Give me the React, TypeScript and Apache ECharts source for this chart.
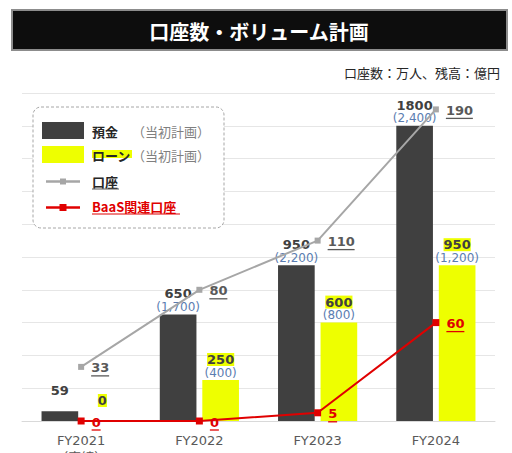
import React, { useEffect, useRef } from "react";
import * as echarts from "echarts";

const categories = ["FY2021", "FY2022", "FY2023", "FY2024"];
const categoryNotes = ["（実績）", "", "", ""];
const deposits = [59, 650, 950, 1800];
const depositPlan: (number | null)[] = [null, 1700, 2200, 2400];
const loans = [0, 250, 600, 950];
const loanPlan: (number | null)[] = [null, 400, 800, 1200];
const accounts = [33, 80, 110, 190];
const baasAccounts = [0, 0, 5, 60];

const titleText = "口座数・ボリューム計画";
const unitText = "口座数：万人、残高：億円";
const seriesNames = ["預金", "ローン", "口座", "BaaS関連口座"];
const planNote = "（当初計画）";

const NUM_FONT = "'DejaVu Sans', 'Noto Sans CJK JP', sans-serif";
const JP_FONT = "'Noto Sans CJK JP', 'DejaVu Sans', sans-serif";

const DARK = "#404040";
const YELLOW = "#EEFF00";
const GRAY = "#A6A6A6";
const RED = "#E00000";

function fmt(n: number) {
  return n.toLocaleString("en-US");
}

function barLabel(plan: (number | null)[], highlight: boolean) {
  return {
    show: true,
    position: "top",
    distance: 1,
    formatter: (p: any) => {
      const pl = plan[p.dataIndex];
      return `{v|${p.value}}\n{p|${pl == null ? " " : "(" + fmt(pl) + ")"}}`;
    },
    rich: {
      v: {
        fontFamily: NUM_FONT,
        fontSize: 13,
        fontWeight: "bold",
        color: DARK,
        lineHeight: 13,
        backgroundColor: highlight ? YELLOW : "transparent",
      },
      p: {
        fontFamily: NUM_FONT,
        fontSize: 12,
        color: "#5B7DB1",
        lineHeight: 13,
      },
    },
  };
}

function lineLabel(color: string) {
  const rich: any = {
    v: {
      fontFamily: NUM_FONT,
      fontSize: 13,
      fontWeight: "bold",
      color,
      lineHeight: 14,
    },
  };
  for (let i = 1; i <= 4; i++) {
    rich["u" + i] = {
      fontSize: 1,
      lineHeight: 2,
      height: 1.3,
      width: i * 9,
      backgroundColor: color,
    };
  }
  return {
    show: true,
    position: "right",
    distance: 7,
    offset: [0, 2],
    formatter: (p: any) => {
      const s = String(p.value);
      return `{v|${s}}\n{u${s.length}| }`;
    },
    rich,
  };
}

export default function App() {
  const ref = useRef<HTMLDivElement>(null);
  useEffect(() => {
    if (!ref.current) return;
    const chart = echarts.init(ref.current, null, { renderer: "svg" });
    const legendX = 42;
    const textX = 92;
    const noteX = 132;
    const option: any = {
      animation: false,
      backgroundColor: "#ffffff",
      grid: { left: 22, right: 17, top: 93, bottom: 32, containLabel: false, outerBoundsMode: "none" },
      xAxis: {
        type: "category",
        data: categories,
        axisTick: { show: false },
        axisLine: { lineStyle: { color: "#D9D9D9", width: 1 } },
        axisLabel: {
          margin: 11,
          color: "#595959",
          fontFamily: NUM_FONT,
          fontSize: 13,
          lineHeight: 17,
          formatter: (v: string, i: number) =>
            categoryNotes[i] ? `${v}\n${categoryNotes[i]}` : v,
        },
      },
      yAxis: [
        {
          type: "value",
          min: 0,
          max: 2000,
          interval: 200,
          axisLabel: { show: false },
          axisLine: { show: false },
          axisTick: { show: false },
          splitLine: { lineStyle: { color: "#E6E6E6", width: 1 } },
        },
        {
          type: "value",
          min: 0,
          max: 200,
          interval: 20,
          axisLabel: { show: false },
          axisLine: { show: false },
          axisTick: { show: false },
          splitLine: { show: false },
        },
      ],
      series: [
        {
          name: seriesNames[0],
          type: "bar",
          data: deposits,
          barWidth: "31%",
          barGap: "16%",
          itemStyle: { color: DARK },
          label: barLabel(depositPlan, false),
          z: 2,
        },
        {
          name: seriesNames[1],
          type: "bar",
          data: loans,
          barWidth: "31%",
          barGap: "16%",
          itemStyle: { color: YELLOW },
          label: barLabel(loanPlan, true),
          z: 2,
        },
        {
          name: seriesNames[2],
          type: "line",
          yAxisIndex: 1,
          data: accounts,
          symbol: "rect",
          symbolSize: 6,
          itemStyle: { color: GRAY },
          lineStyle: { color: GRAY, width: 2 },
          label: lineLabel("#595959"),
          z: 4,
        },
        {
          name: seriesNames[3],
          type: "line",
          yAxisIndex: 1,
          data: baasAccounts,
          symbol: "rect",
          symbolSize: 7,
          itemStyle: { color: RED },
          lineStyle: { color: RED, width: 2 },
          label: lineLabel(RED),
          z: 5,
        },
      ],
      graphic: [
        {
          type: "rect",
          shape: { x: 12, y: 10, width: 495, height: 40 },
          style: { fill: "#0D0D0D", stroke: "#8C8C8C", lineWidth: 2 },
        },
        {
          type: "text",
          x: 259,
          y: 31,
          style: {
            text: titleText,
            fill: "#ffffff",
            font: `bold 20px ${JP_FONT}`,
            align: "center",
            verticalAlign: "middle",
          },
        },
        {
          type: "text",
          x: 500,
          y: 72,
          style: {
            text: unitText,
            fill: "#262626",
            font: `13px ${JP_FONT}`,
            align: "right",
            verticalAlign: "middle",
          },
        },
        {
          type: "rect",
          z: 10,
          shape: { x: 33, y: 107, width: 191, height: 121, r: 8 },
          style: { fill: "#ffffff", stroke: "#A6A6A6", lineWidth: 1, lineDash: [3, 2] },
        },
        {
          type: "rect",
          z: 11,
          shape: { x: legendX, y: 122, width: 42, height: 17 },
          style: { fill: DARK },
        },
        {
          type: "text",
          z: 11,
          x: textX,
          y: 131,
          style: { text: seriesNames[0], fill: "#262626", font: `bold 13px ${JP_FONT}`, verticalAlign: "middle" },
        },
        {
          type: "text",
          z: 11,
          x: noteX,
          y: 131,
          style: { text: planNote, fill: "#7F7F7F", font: `13px ${JP_FONT}`, verticalAlign: "middle" },
        },
        {
          type: "rect",
          z: 11,
          shape: { x: legendX, y: 146, width: 42, height: 17 },
          style: { fill: YELLOW },
        },
        {
          type: "rect",
          z: 11,
          shape: { x: textX, y: 150, width: 40, height: 8 },
          style: { fill: YELLOW },
        },
        {
          type: "text",
          z: 12,
          x: textX,
          y: 155,
          style: { text: seriesNames[1], fill: "#262626", font: `bold 13px ${JP_FONT}`, verticalAlign: "middle" },
        },
        {
          type: "text",
          z: 11,
          x: noteX,
          y: 155,
          style: { text: planNote, fill: "#7F7F7F", font: `13px ${JP_FONT}`, verticalAlign: "middle" },
        },
        {
          type: "line",
          z: 11,
          shape: { x1: 46, y1: 181.5, x2: 80, y2: 181.5 },
          style: { stroke: GRAY, lineWidth: 2.5 },
        },
        {
          type: "rect",
          z: 11,
          shape: { x: 60, y: 178.5, width: 6, height: 6 },
          style: { fill: GRAY },
        },
        {
          type: "text",
          z: 11,
          x: textX,
          y: 181,
          style: { text: seriesNames[2], fill: "#262626", font: `bold 13px ${JP_FONT}`, verticalAlign: "middle" },
        },
        {
          type: "line",
          z: 11,
          shape: { x1: textX, y1: 189, x2: textX + 27, y2: 189 },
          style: { stroke: "#595959", lineWidth: 1 },
        },
        {
          type: "line",
          z: 11,
          shape: { x1: 46, y1: 207.5, x2: 80, y2: 207.5 },
          style: { stroke: RED, lineWidth: 2.5 },
        },
        {
          type: "rect",
          z: 11,
          shape: { x: 59.5, y: 204, width: 7, height: 7 },
          style: { fill: RED },
        },
        {
          type: "text",
          z: 11,
          x: textX,
          y: 206,
          style: { text: seriesNames[3], fill: RED, font: `bold 13px ${JP_FONT}`, verticalAlign: "middle" },
        },
        {
          type: "line",
          z: 11,
          shape: { x1: textX, y1: 214, x2: 180, y2: 214 },
          style: { stroke: RED, lineWidth: 1 },
        },
      ],
    };
    chart.setOption(option);
    return () => chart.dispose();
  }, []);
  return (
    <div
      ref={ref}
      style={{ position: "fixed", left: 0, top: 0, width: 512, height: 453 }}
    />
  );
}
